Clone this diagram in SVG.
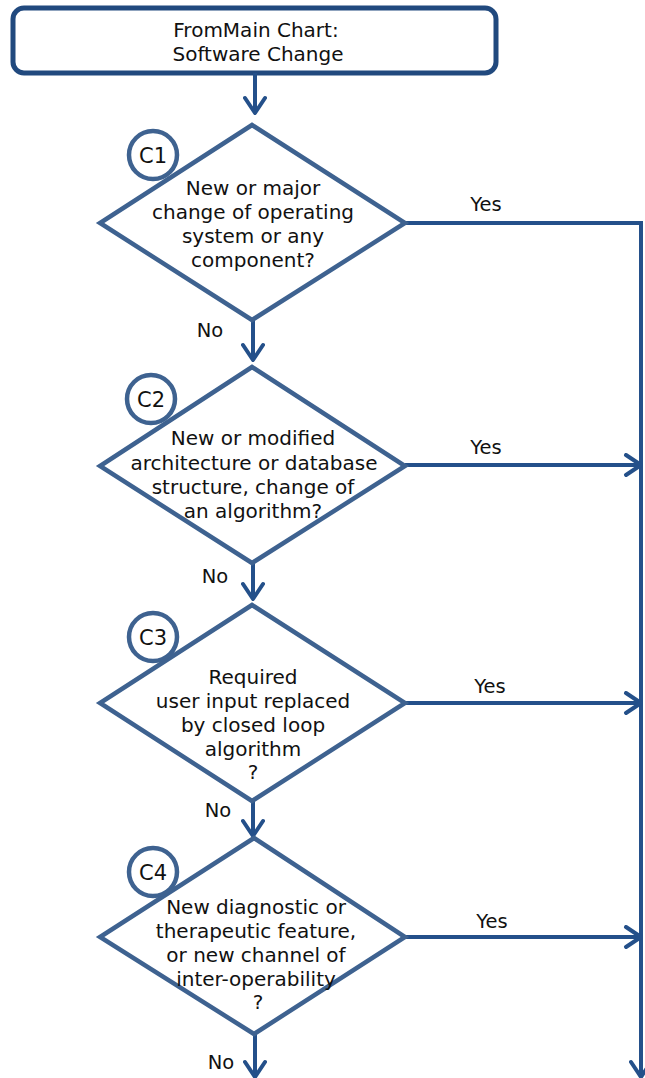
<svg xmlns="http://www.w3.org/2000/svg" width="645" height="1078" viewBox="0 0 645 1078">
<style>
.shape{fill:#fff;stroke:#3E6290;stroke-width:4.5}
.box{fill:#fff;stroke:#21497E;stroke-width:5}
.conn{fill:none;stroke:#24508A;stroke-width:4}
.t{font-family:"DejaVu Sans",Verdana,sans-serif;font-size:20px;fill:#111;text-anchor:middle}
.lbl{font-family:"DejaVu Sans",Verdana,sans-serif;font-size:19.5px;fill:#111;text-anchor:middle}
.cid{font-family:"DejaVu Sans",Verdana,sans-serif;font-size:21px;fill:#111;text-anchor:middle}
</style>
<defs>
<marker id="ah" viewBox="0 0 20 24" refX="18" refY="12" markerWidth="20" markerHeight="24" markerUnits="userSpaceOnUse" orient="auto">
<path d="M3,2 L18,12 L3,22" fill="none" stroke="#24508A" stroke-width="4" stroke-linecap="round" stroke-linejoin="round"/>
</marker>
</defs>
<g id="start">
<rect class="box" x="13" y="8" width="483" height="65" rx="11"/>
<text class="t" x="256" y="37">FromMain Chart:</text>
<text class="t" x="258" y="61">Software Change</text>
</g>
<g id="connectors">
<line class="conn" x1="255" y1="73" x2="255" y2="113" marker-end="url(#ah)"/>
<line class="conn" x1="253" y1="320" x2="253" y2="360" marker-end="url(#ah)"/>
<line class="conn" x1="253" y1="563" x2="253" y2="599" marker-end="url(#ah)"/>
<line class="conn" x1="253" y1="801" x2="253" y2="836" marker-end="url(#ah)"/>
<line class="conn" x1="255" y1="1034" x2="255" y2="1077" marker-end="url(#ah)"/>
<polyline class="conn" points="405,223 641,223 641,1077" marker-end="url(#ah)"/>
<line class="conn" x1="405" y1="465" x2="641" y2="465" marker-end="url(#ah)"/>
<line class="conn" x1="405" y1="703" x2="641" y2="703" marker-end="url(#ah)"/>
<line class="conn" x1="405" y1="937" x2="641" y2="937" marker-end="url(#ah)"/>
<text class="lbl" x="486" y="211">Yes</text>
<text class="lbl" x="486" y="454">Yes</text>
<text class="lbl" x="490" y="693">Yes</text>
<text class="lbl" x="492" y="928">Yes</text>
<text class="lbl" x="210" y="337">No</text>
<text class="lbl" x="215" y="583">No</text>
<text class="lbl" x="218" y="817">No</text>
<text class="lbl" x="221" y="1069">No</text>
</g>
<g id="C1">
<polygon class="shape" points="252,125 405,223 252,320 100,223"/>
<circle class="shape" cx="153" cy="155" r="24"/>
<text class="cid" x="153" y="163">C1</text>
<text class="t" x="253" y="195">New or major</text>
<text class="t" x="253" y="219">change of operating</text>
<text class="t" x="253" y="243">system or any</text>
<text class="t" x="253" y="267">component?</text>
</g>
<g id="C2">
<polygon class="shape" points="252,367 405,466 252,563 100,466"/>
<circle class="shape" cx="151" cy="399" r="24"/>
<text class="cid" x="151" y="407">C2</text>
<text class="t" x="253" y="445">New or modified</text>
<text class="t" x="254" y="470">architecture or database</text>
<text class="t" x="253" y="494">structure, change of</text>
<text class="t" x="253" y="518">an algorithm?</text>
</g>
<g id="C3">
<polygon class="shape" points="252,605 405,703 252,801 100,703"/>
<circle class="shape" cx="153" cy="637" r="24"/>
<text class="cid" x="153" y="645">C3</text>
<text class="t" x="253" y="684">Required</text>
<text class="t" x="253" y="708">user input replaced</text>
<text class="t" x="253" y="732">by closed loop</text>
<text class="t" x="253" y="756">algorithm</text>
<text class="t" x="253" y="779">?</text>
</g>
<g id="C4">
<polygon class="shape" points="254,838 405,937 254,1034 100,937"/>
<circle class="shape" cx="153" cy="872" r="24"/>
<text class="cid" x="153" y="880">C4</text>
<text class="t" x="256" y="914">New diagnostic or</text>
<text class="t" x="256" y="938">therapeutic feature,</text>
<text class="t" x="256" y="962">or new channel of</text>
<text class="t" x="256" y="986">inter-operability</text>
<text class="t" x="258" y="1009">?</text>
</g>
</svg>
